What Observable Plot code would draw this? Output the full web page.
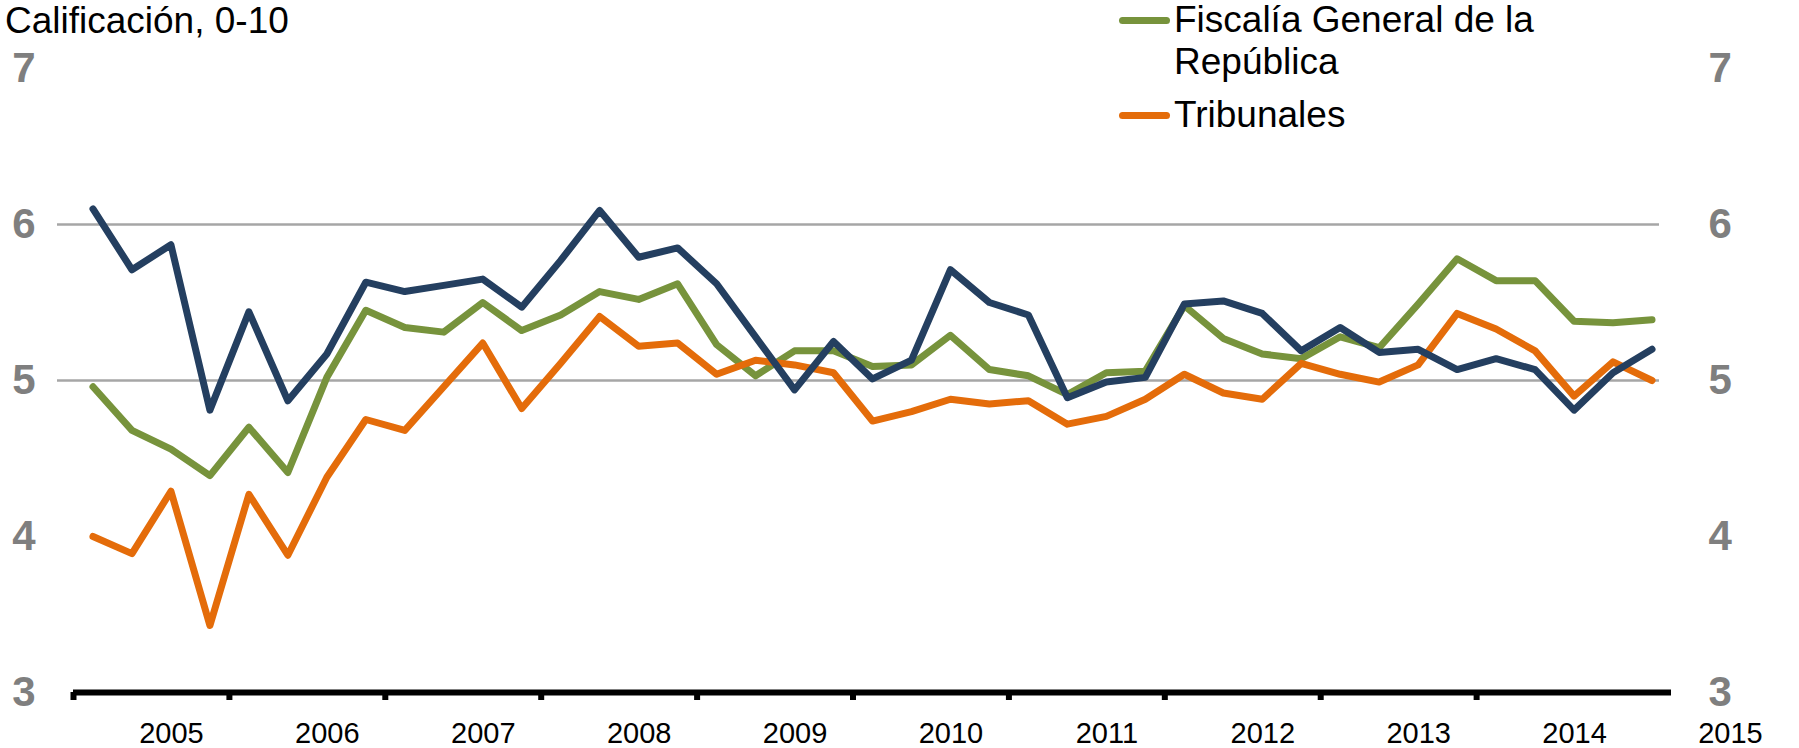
<!DOCTYPE html>
<html>
<head>
<meta charset="utf-8">
<script src="https://cdn.jsdelivr.net/npm/d3@7"></script>
<script src="https://cdn.jsdelivr.net/npm/@observablehq/plot@0.6"></script>
<style>
  html, body { margin: 0; padding: 0; background: #fff; }
  #wrap { position: relative; width: 1799px; height: 748px; overflow: hidden; font-family: "Liberation Sans", Arial, sans-serif; color: #000; }
  #chart { position: absolute; left: 0; top: 0; }
  #title { position: absolute; left: 5px; top: 2px; font-size: 37px; line-height: 37px; white-space: nowrap; }
  .entry { position: absolute; left: 1119px; width: 420px; font-size: 37px; line-height: 42px; }
  .swatch { position: absolute; left: 0; width: 51px; height: 7px; border-radius: 4px; }
  .label { margin-left: 55px; width: 380px; }
</style>
</head>
<body>
<div id="wrap">
  <div id="chart"></div>
  <div id="title"></div>
  <div id="legend"></div>
</div>
<script>
// ---- Data ----
const quarters = ["2005T1","2005T2","2005T3","2005T4","2006T1","2006T2","2006T3","2006T4",
  "2007T1","2007T2","2007T3","2007T4","2008T1","2008T2","2008T3","2008T4",
  "2009T1","2009T2","2009T3","2009T4","2010T1","2010T2","2010T3","2010T4",
  "2011T1","2011T2","2011T3","2011T4","2012T1","2012T2","2012T3","2012T4",
  "2013T1","2013T2","2013T3","2013T4","2014T1","2014T2","2014T3","2014T4","2015T1"];

// Serie sin etiqueta visible (azul oscuro)
const serieAzul = [6.10, 5.71, 5.87, 4.81, 5.44, 4.87, 5.17, 5.63, 5.57, 5.61,
  5.65, 5.47, 5.77, 6.09, 5.79, 5.85, 5.62, 5.28, 4.94, 5.25,
  5.01, 5.13, 5.71, 5.50, 5.42, 4.89, 4.99, 5.02, 5.49, 5.51,
  5.43, 5.19, 5.34, 5.18, 5.20, 5.07, 5.14, 5.07, 4.81, 5.05, 5.20];

const fiscalia = [4.96, 4.68, 4.56, 4.39, 4.70, 4.41, 5.02, 5.45, 5.34, 5.31,
  5.50, 5.32, 5.42, 5.57, 5.52, 5.62, 5.23, 5.03, 5.19, 5.19,
  5.09, 5.10, 5.29, 5.07, 5.03, 4.91, 5.05, 5.06, 5.48, 5.27,
  5.17, 5.14, 5.28, 5.21, 5.49, 5.78, 5.64, 5.64, 5.38, 5.37, 5.39];

const tribunales = [4.00, 3.89, 4.29, 3.43, 4.27, 3.88, 4.38, 4.75, 4.68, 4.96,
  5.24, 4.82, 5.11, 5.41, 5.22, 5.24, 5.04, 5.13, 5.10, 5.05,
  4.74, 4.80, 4.88, 4.85, 4.87, 4.72, 4.77, 4.88, 5.04, 4.92,
  4.88, 5.11, 5.04, 4.99, 5.10, 5.43, 5.33, 5.19, 4.90, 5.12, 5.00];

const seriesNames = ["Fiscalía General de la República", "Tribunales"];
const yearLabels = [2005, 2006, 2007, 2008, 2009, 2010, 2011, 2012, 2013, 2014, 2015];
const yTicks = [3, 4, 5, 6, 7];
const gridValues = [5, 6];
const titleText = "Calificación, 0-10";

// ---- Styles ----
const colors = { azul: "#243F60", fiscalia: "#77933C", tribunales: "#E46C0A" };

// quarter "T1".."T4" -> fractional year at quarter centre
const toTime = q => +q.slice(0, 4) + (+q.slice(5) - 1) / 4 + 0.125;
const mk = (vals, serie) => quarters.map((q, i) => ({ t: toTime(q), v: vals[i], serie }));
const dAzul = mk(serieAzul, "azul");
const dFis = mk(fiscalia, "fiscalia");
const dTri = mk(tribunales, "tribunales");

const lineOpts = { x: "t", y: "v", strokeWidth: 7, strokeLinejoin: "round", strokeLinecap: "round" };
const axisFont = { fontSize: 42, fontWeight: "bold", fill: "#7F7F7F", fontFamily: "'Liberation Sans Narrow', 'Arial Narrow', 'Liberation Sans', Arial, sans-serif" };

const chart = Plot.plot({
  width: 1799,
  height: 748,
  marginLeft: 73,
  marginRight: 128,
  marginTop: 68,
  marginBottom: 56,
  style: { background: "transparent", overflow: "visible" },
  x: { domain: [2005, 2015.25], axis: null },
  y: { domain: [3, 7], axis: null },
  marks: [
    Plot.ruleY(gridValues, { stroke: "#A6A6A6", strokeWidth: 2.5, insetLeft: -16, insetRight: 12 }),
    Plot.line(dFis, { ...lineOpts, stroke: colors.fiscalia }),
    Plot.line(dTri, { ...lineOpts, stroke: colors.tribunales }),
    Plot.line(dAzul, { ...lineOpts, stroke: colors.azul }),
    Plot.ruleY([3], { stroke: "#000", strokeWidth: 6 }),
    Plot.axisX({ ticks: yearLabels.slice(0, -1), tickSize: 8, strokeWidth: 6, stroke: "#000", tickFormat: () => "", label: null }),
    Plot.text(yTicks, { y: d => d, text: d => String(d), frameAnchor: "left", textAnchor: "end", dx: -38, lineAnchor: "middle", ...axisFont }),
    Plot.text(yTicks, { y: d => d, text: d => String(d), frameAnchor: "right", textAnchor: "start", dx: 37, lineAnchor: "middle", ...axisFont }),
    Plot.text(yearLabels, { x: d => d + 0.5, text: d => String(d), frameAnchor: "bottom", lineAnchor: "bottom", dy: 50, dx: 20,
      fontSize: 29, fill: "#000", fontFamily: "'Liberation Sans', Arial, sans-serif" })
  ]
});
document.getElementById("chart").appendChild(chart);

document.getElementById("title").textContent = titleText;

const legend = document.getElementById("legend");
const entries = [
  { name: seriesNames[0], color: colors.fiscalia, top: -1 },
  { name: seriesNames[1], color: colors.tribunales, top: 94 }
];
for (const e of entries) {
  const div = document.createElement("div");
  div.className = "entry";
  div.style.top = e.top + "px";
  const sw = document.createElement("span");
  sw.className = "swatch";
  sw.style.background = e.color;
  sw.style.top = "18px";
  const lab = document.createElement("div");
  lab.className = "label";
  lab.textContent = e.name;
  div.appendChild(sw);
  div.appendChild(lab);
  legend.appendChild(div);
}
</script>
</body>
</html>
